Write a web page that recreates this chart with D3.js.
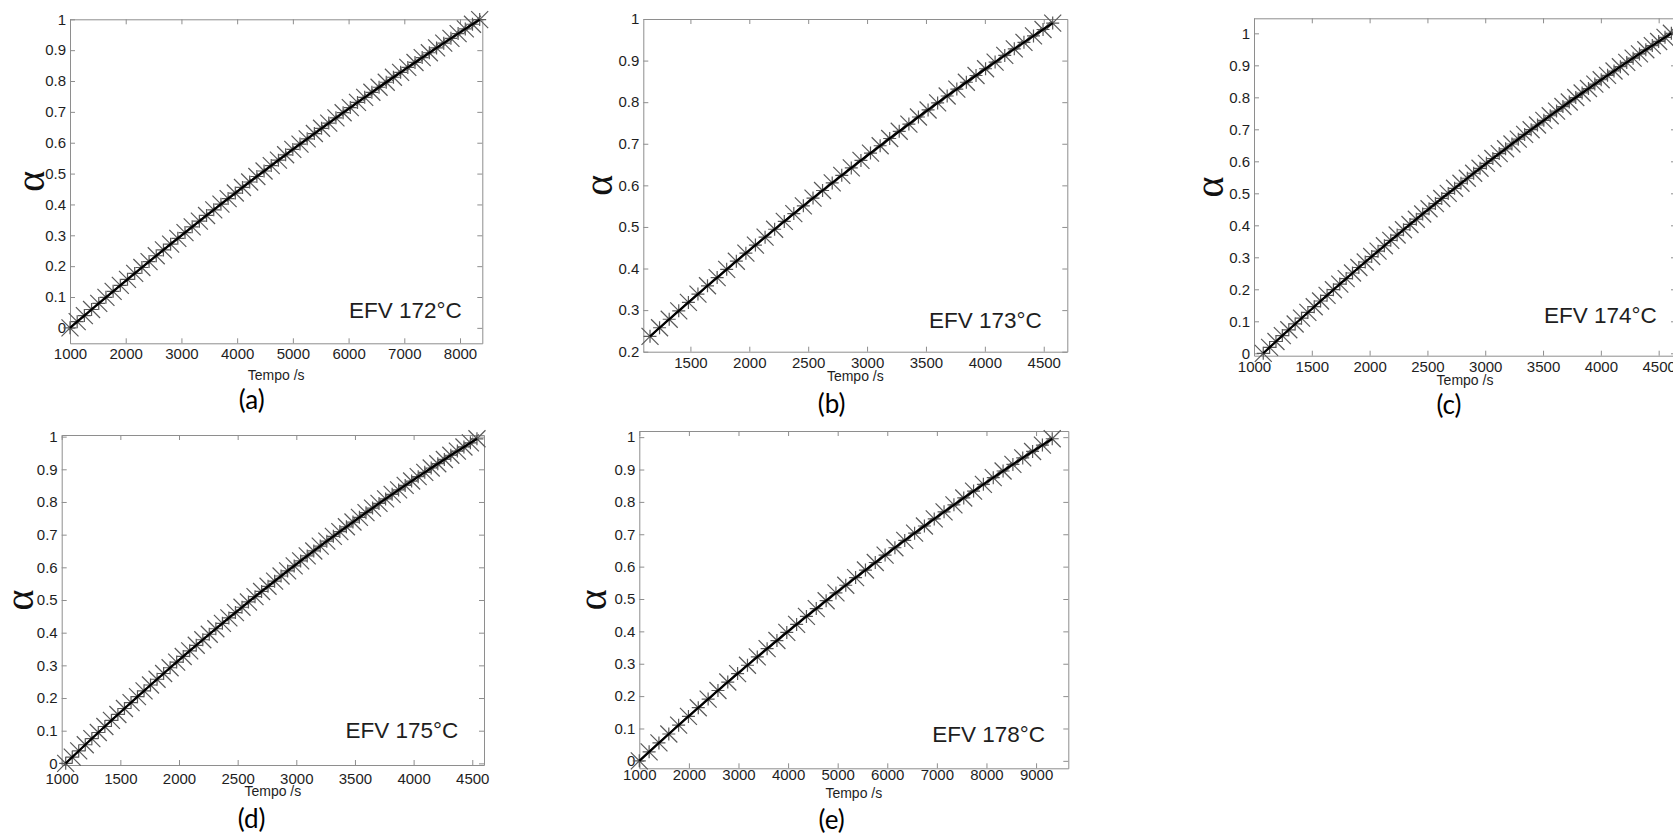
<!DOCTYPE html>
<html>
<head>
<meta charset="utf-8">
<script src="https://cdn.jsdelivr.net/npm/d3@7"></script>
<style>
  body { margin: 0; background: #fff; }
  svg { display: block; }
</style>
</head>
<body>
<svg id="fig" width="1673" height="835"></svg>
<script>
// Conversion fraction (alpha) against time for isothermal EFV runs.

// (a) EFV 172 °C
const timeA = [1000,1129,1258,1387,1516,1645,1774,1903,2032,2161,2290,2419,2548,2677,2806,2935,3064,3193,3322,3451,3580,3709,3838,3967,4096,4225,4354,4483,4612,4741,4870,4999,5128,5257,5386,5515,5644,5773,5902,6031,6160,6289,6418,6547,6676,6805,6934,7063,7192,7321,7450,7579,7708,7837,7966,8095,8224,8353];
const alphaA = [0,0.0200,0.0398,0.0596,0.0793,0.0989,0.1184,0.1378,0.1572,0.1765,0.1956,0.2147,0.2337,0.2526,0.2714,0.2902,0.3088,0.3274,0.3459,0.3643,0.3826,0.4008,0.4189,0.4370,0.4550,0.4728,0.4906,0.5083,0.5259,0.5435,0.5609,0.5783,0.5955,0.6127,0.6298,0.6468,0.6637,0.6806,0.6973,0.7140,0.7306,0.7471,0.7635,0.7798,0.7960,0.8122,0.8282,0.8442,0.8601,0.8759,0.8916,0.9072,0.9227,0.9382,0.9536,0.9688,0.9840,0.9991];

// (b) EFV 173 °C
const timeB = [1157,1238,1320,1401,1483,1564,1645,1727,1808,1890,1971,2052,2134,2215,2297,2378,2459,2541,2622,2704,2785,2866,2948,3029,3111,3192,3273,3355,3436,3518,3599,3680,3762,3843,3925,4006,4087,4169,4250,4332,4413,4494,4576];
const alphaB = [0.2370,0.2576,0.2780,0.2983,0.3185,0.3386,0.3585,0.3783,0.3980,0.4176,0.4370,0.4563,0.4754,0.4944,0.5133,0.5321,0.5508,0.5693,0.5876,0.6059,0.6240,0.6420,0.6599,0.6776,0.6952,0.7127,0.7300,0.7473,0.7644,0.7813,0.7982,0.8149,0.8314,0.8479,0.8642,0.8804,0.8964,0.9124,0.9282,0.9438,0.9594,0.9748,0.9901];

// (c) EFV 174 °C
const timeC = [1080,1135,1190,1245,1301,1356,1411,1466,1521,1576,1632,1687,1742,1797,1852,1907,1962,2018,2073,2128,2183,2238,2293,2349,2404,2459,2514,2569,2624,2680,2735,2790,2845,2900,2955,3010,3066,3121,3176,3231,3286,3341,3397,3452,3507,3562,3617,3672,3727,3783,3838,3893,3948,4003,4058,4114,4169,4224,4279,4334,4389,4445,4500,4555,4610];
const alphaC = [0,0.0185,0.0369,0.0553,0.0735,0.0917,0.1097,0.1277,0.1456,0.1634,0.1811,0.1987,0.2162,0.2336,0.2509,0.2682,0.2853,0.3024,0.3193,0.3362,0.3530,0.3696,0.3862,0.4027,0.4191,0.4355,0.4517,0.4678,0.4839,0.4998,0.5157,0.5314,0.5471,0.5627,0.5782,0.5936,0.6089,0.6241,0.6392,0.6542,0.6692,0.6840,0.6988,0.7135,0.7280,0.7425,0.7569,0.7712,0.7854,0.7995,0.8135,0.8275,0.8413,0.8550,0.8687,0.8823,0.8957,0.9091,0.9224,0.9356,0.9487,0.9617,0.9746,0.9874,1.0002];

// (d) EFV 175 °C
const timeD = [1034,1090,1145,1201,1257,1312,1368,1424,1479,1535,1591,1646,1702,1757,1813,1869,1924,1980,2036,2091,2147,2203,2258,2314,2370,2425,2481,2537,2592,2648,2704,2759,2815,2870,2926,2982,3037,3093,3149,3204,3260,3316,3371,3427,3483,3538,3594,3650,3705,3761,3817,3872,3928,3983,4039,4095,4150,4206,4262,4317,4373,4429,4484,4540];
const alphaD = [0,0.0191,0.0381,0.0570,0.0757,0.0944,0.1129,0.1314,0.1497,0.1680,0.1861,0.2041,0.2220,0.2398,0.2575,0.2751,0.2926,0.3100,0.3272,0.3444,0.3614,0.3784,0.3952,0.4120,0.4286,0.4451,0.4615,0.4778,0.4940,0.5101,0.5261,0.5420,0.5577,0.5734,0.5890,0.6044,0.6197,0.6350,0.6501,0.6651,0.6800,0.6948,0.7095,0.7241,0.7386,0.7530,0.7672,0.7814,0.7955,0.8094,0.8233,0.8370,0.8506,0.8641,0.8775,0.8908,0.9040,0.9171,0.9301,0.9430,0.9558,0.9684,0.9810,0.9934];

// (e) EFV 178 °C
const timeE = [1000,1198,1396,1595,1793,1991,2189,2388,2586,2784,2982,3181,3379,3577,3775,3974,4172,4370,4568,4767,4965,5163,5361,5560,5758,5956,6154,6352,6551,6749,6947,7145,7344,7542,7740,7938,8137,8335,8533,8731,8930,9128,9326];
const alphaE = [0,0.0279,0.0555,0.0830,0.1103,0.1373,0.1642,0.1908,0.2173,0.2435,0.2696,0.2954,0.3210,0.3465,0.3717,0.3967,0.4215,0.4461,0.4705,0.4947,0.5187,0.5425,0.5661,0.5895,0.6127,0.6357,0.6584,0.6810,0.7034,0.7255,0.7475,0.7692,0.7908,0.8121,0.8333,0.8542,0.8749,0.8955,0.9158,0.9359,0.9558,0.9755,0.9950];

// Tick values
const ticksX1000to8000 = [1000,2000,3000,4000,5000,6000,7000,8000];
const ticksX1000to9000 = [1000,2000,3000,4000,5000,6000,7000,8000,9000];
const ticksX1500to4500 = [1500,2000,2500,3000,3500,4000,4500];
const ticksX1000to4500 = [1000,1500,2000,2500,3000,3500,4000,4500];
const ticksY0to1 = [0,0.1,0.2,0.3,0.4,0.5,0.6,0.7,0.8,0.9,1];
const ticksY02to1 = [0.2,0.3,0.4,0.5,0.6,0.7,0.8,0.9,1];

// Panel titles and letters
const titles = ["EFV 172°C","EFV 173°C","EFV 174°C","EFV 175°C","EFV 178°C"];
const letters = ["(a)","(b)","(c)","(d)","(e)"];

// Layout of each panel: box = [left, top, right, bottom] in page pixels
const panels = [
  { time: timeA, alpha: alphaA, title: titles[0], letter: letters[0],
    box: [70, 19.3, 482.3, 343.3], xDomain: [1000, 8400], yDomain: [-0.05, 1],
    xTicks: ticksX1000to8000, yTicks: ticksY0to1,
    titleX: 461.7, titleY: 318.3, letterX: 251.7, letterY: 409, ylabX: 35, xlabDy: 37, xPad: 5 },
  { time: timeB, alpha: alphaB, title: titles[1], letter: letters[1],
    box: [643.3, 19, 1067.3, 351.7], xDomain: [1100, 4700], yDomain: [0.2, 1],
    xTicks: ticksX1500to4500, yTicks: ticksY02to1,
    titleX: 1041.7, titleY: 328.3, letterX: 831.7, letterY: 413, ylabX: 603.3, xlabDy: 29, xPad: 5.5 },
  { time: timeC, alpha: alphaC, title: titles[2], letter: letters[2],
    box: [1254, 18.3, 1676, 355.7], xDomain: [1000, 4650], yDomain: [-0.0075, 1.047],
    xTicks: ticksX1000to4500, yTicks: ticksY0to1,
    titleX: 1656.7, titleY: 323.3, letterX: 1449, letterY: 414, ylabX: 1214, xlabDy: 29, xPad: 6 },
  { time: timeD, alpha: alphaD, title: titles[3], letter: letters[3],
    box: [61.7, 435, 484, 765], xDomain: [1000, 4600], yDomain: [-0.005, 1.005],
    xTicks: ticksX1000to4500, yTicks: ticksY0to1,
    titleX: 458.3, titleY: 738.3, letterX: 251.7, letterY: 828, ylabX: 23.5, xlabDy: 31, xPad: 8 },
  { time: timeE, alpha: alphaE, title: titles[4], letter: letters[4],
    box: [639.3, 431, 1068.3, 768.3], xDomain: [1000, 9650], yDomain: [-0.023, 1.019],
    xTicks: ticksX1000to9000, yTicks: ticksY0to1,
    titleX: 1045, titleY: 741.7, letterX: 831.7, letterY: 829, ylabX: 596.7, xlabDy: 30, xPad: 1 }
];

const svg = d3.select("#fig");
svg.append("rect").attr("width", 1673).attr("height", 835).attr("fill", "#fff");

const axisColor = "#8e8e8e";
const textColor = "#1e1e1e";
const sansFont = "'Liberation Sans', Arial, sans-serif";
const fmtX = d3.format("d");
const fmtY = d3.format("~g");

// Asterisk marker: a plus and a cross overlaid
const markerPath = (() => {
  const r = 6.5, d = 8.5;
  return `M${-r},0H${r}M0,${-r}V${r}M${-d},${-d}L${d},${d}M${-d},${d}L${d},${-d}`;
})();

function styleAxis(sel) {
  sel.attr("font-family", sansFont).attr("font-size", 15);
  sel.select(".domain").attr("stroke", axisColor).attr("stroke-width", 1);
  sel.selectAll(".tick line").attr("stroke", axisColor).attr("stroke-width", 1);
  sel.selectAll(".tick text").attr("fill", textColor);
}

function drawPanel(p) {
  const [L, T, R, B] = p.box;
  const x = d3.scaleLinear().domain(p.xDomain).range([L, R]);
  const y = d3.scaleLinear().domain(p.yDomain).range([B, T]);
  const g = svg.append("g");

  // Four-sided box with inward ticks
  g.append("g").attr("transform", `translate(0,${B})`)
    .call(d3.axisBottom(x).tickValues(p.xTicks).tickFormat(fmtX)
      .tickSizeInner(-5).tickSizeOuter(0).tickPadding(p.xPad))
    .call(styleAxis);
  g.append("g").attr("transform", `translate(0,${T})`)
    .call(d3.axisTop(x).tickValues(p.xTicks).tickFormat(() => "")
      .tickSizeInner(-5).tickSizeOuter(0))
    .call(styleAxis);
  g.append("g").attr("transform", `translate(${L},0)`)
    .call(d3.axisLeft(y).tickValues(p.yTicks).tickFormat(fmtY)
      .tickSizeInner(-5).tickSizeOuter(0).tickPadding(4))
    .call(styleAxis);
  g.append("g").attr("transform", `translate(${R},0)`)
    .call(d3.axisRight(y).tickValues(p.yTicks).tickFormat(() => "")
      .tickSizeInner(-5).tickSizeOuter(0))
    .call(styleAxis);

  const pts = p.time.map((t, i) => [t, p.alpha[i]]);

  // Experimental points
  g.append("g").selectAll("path")
    .data(pts)
    .join("path")
    .attr("transform", d => `translate(${x(d[0])},${y(d[1])})`)
    .attr("d", markerPath)
    .attr("fill", "none")
    .attr("stroke", "#585858")
    .attr("stroke-width", 1.2);

  // Fitted curve
  g.append("path")
    .datum(pts)
    .attr("d", d3.line().x(d => x(d[0])).y(d => y(d[1])))
    .attr("fill", "none")
    .attr("stroke", "#000")
    .attr("stroke-width", 2.2);

  // Temperature label inside the axes
  g.append("text")
    .attr("x", p.titleX).attr("y", p.titleY)
    .attr("text-anchor", "end")
    .attr("font-family", sansFont).attr("font-size", 22.5)
    .attr("fill", textColor)
    .text(p.title);

  // Axis titles
  g.append("text")
    .attr("x", (L + Math.min(R, 1673)) / 2 + (R > 1673 ? 1.5 : 0)).attr("y", B + p.xlabDy)
    .attr("text-anchor", "middle")
    .attr("font-family", sansFont).attr("font-size", 14)
    .attr("fill", textColor)
    .text("Tempo /s");

  g.append("text")
    .attr("transform", `translate(${p.ylabX + 9},${(T + B) / 2}) rotate(-90)`)
    .attr("text-anchor", "middle")
    .attr("font-family", "'Liberation Serif', 'Times New Roman', serif")
    .attr("font-size", 40)
    .attr("fill", "#111")
    .text("α");

  // Panel letter
  svg.append("text")
    .attr("x", p.letterX).attr("y", p.letterY)
    .attr("text-anchor", "middle")
    .attr("font-family", "Lato, 'Open Sans', sans-serif")
    .attr("font-size", 26)
    .attr("fill", "#000")
    .text(p.letter);
}

panels.forEach(drawPanel);
</script>
</body>
</html>
